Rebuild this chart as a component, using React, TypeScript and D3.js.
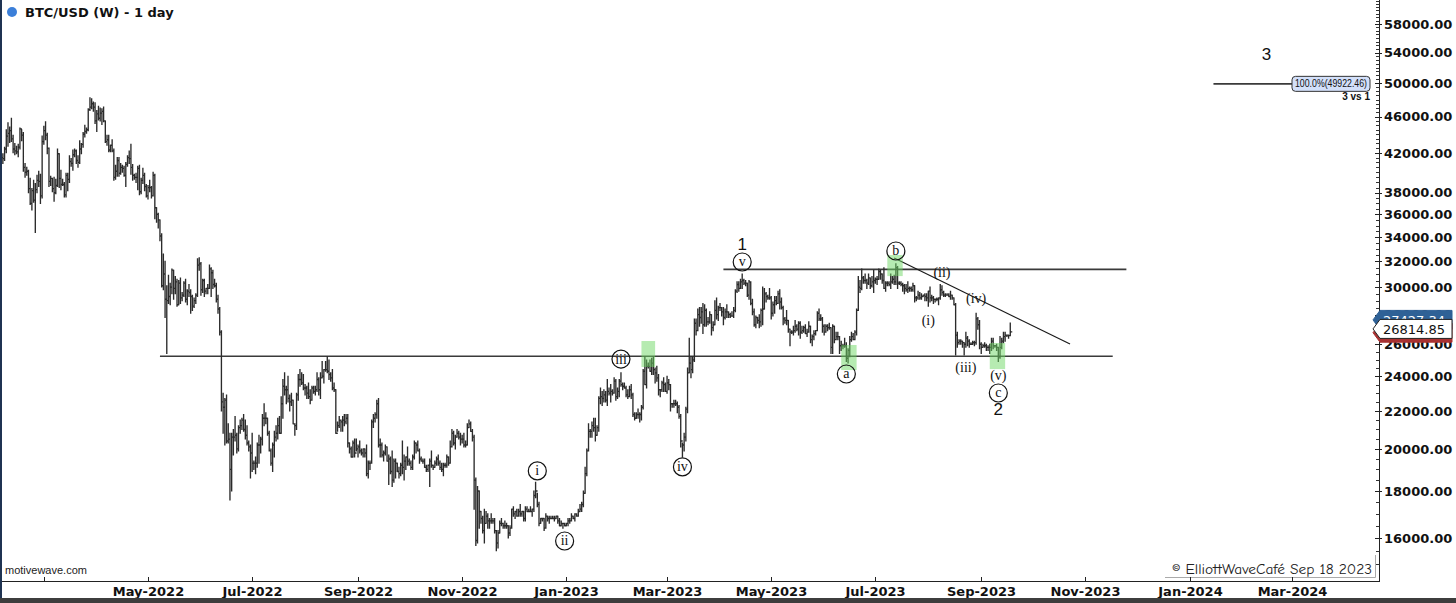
import React from "react";
import * as d3 from "d3";

// Daily BTC/USD bars, values in thousands of USD. First bar is 2022-02-05.
const START_DATE = "2022-02-05";
const FIRST_OPEN_K = 41.5;

const closeK = [
  // Feb 2022
  41.4,42.4,43.8,44.1,44.4,43.5,42.4,42.2,42.1,42.6,44.6,43.9,40.5,40.0,40.1,38.4,37.0,38.2,37.3,38.3,39.2,39.1,37.7,43.2,
  // Mar 2022
  44.4,43.9,42.5,39.1,39.4,38.4,38.0,38.7,41.9,39.4,38.8,38.8,37.8,39.7,39.3,41.1,40.9,41.8,42.2,41.2,41.0,42.4,42.9,44.0,44.3,44.5,46.8,47.1,47.5,47.1,45.5,
  // Apr 2022
  46.3,45.8,46.4,46.6,45.5,43.2,43.4,42.3,42.8,42.2,39.5,40.1,41.2,39.9,40.5,40.4,39.7,40.8,41.5,41.4,40.5,39.7,39.5,39.5,40.4,38.1,39.2,39.7,38.6,37.7,
  // May 2022
  38.5,38.5,37.7,39.7,36.6,36.0,35.5,34.1,30.1,31.0,29.1,29.0,29.3,30.0,31.3,29.9,30.4,28.7,30.3,29.2,29.4,30.3,29.1,29.7,29.6,29.3,28.6,29.0,29.4,31.7,31.8,
  // Jun 2022
  29.8,30.5,29.7,29.9,29.9,31.4,31.1,30.2,30.1,29.1,28.4,26.8,22.5,22.2,22.6,20.4,20.5,19.0,20.6,20.6,20.7,20.0,21.1,21.2,21.5,21.0,20.7,20.3,20.1,19.8,
  // Jul 2022
  19.3,19.3,19.3,20.2,20.2,20.5,21.6,21.6,21.6,20.8,19.9,19.3,20.2,20.6,20.8,21.2,20.8,22.4,23.4,23.2,23.2,22.7,22.5,22.6,21.3,21.2,22.9,23.8,23.8,23.6,23.3,
  // Aug 2022
  23.3,23.0,22.8,22.6,23.3,23.1,23.2,23.8,23.2,23.9,24.0,24.4,24.4,24.3,24.1,23.9,23.3,23.2,20.8,21.2,21.5,21.4,21.5,21.4,21.6,20.3,20.0,19.6,20.3,19.8,20.0,
  // Sep 2022
  20.1,19.9,19.8,20.0,19.8,18.8,19.3,19.3,21.4,21.6,21.8,22.4,20.2,20.2,19.7,19.8,20.1,19.4,19.5,18.9,18.5,19.4,19.3,18.9,18.8,19.2,19.1,19.4,19.6,19.4,
  // Oct 2022
  19.3,19.1,19.6,20.3,20.2,19.9,19.5,19.4,19.4,19.1,19.0,19.2,19.4,19.2,19.1,19.3,19.5,19.3,19.1,19.0,19.2,19.2,19.6,19.3,20.1,20.8,20.3,20.6,20.8,20.6,20.5,
  // Nov 2022
  20.5,20.2,20.2,21.1,21.3,20.9,20.6,18.5,15.9,18.0,17.1,16.8,16.3,16.6,16.9,16.7,16.7,16.7,16.7,16.3,15.8,16.2,16.6,16.6,16.5,16.5,16.5,16.2,16.4,17.2,
  // Dec 2022
  17.0,17.1,16.9,17.1,17.0,17.1,16.8,17.2,17.1,17.1,17.1,17.2,17.8,18.0,17.4,16.6,16.8,16.8,16.4,16.9,16.8,16.8,16.8,16.8,16.8,16.9,16.7,16.5,16.6,16.6,16.5,
  // Jan 2023
  16.6,16.7,16.7,16.9,16.8,17.0,16.9,17.1,17.2,17.4,17.9,18.8,19.9,20.9,20.9,21.2,21.1,20.7,21.1,22.7,22.8,22.7,22.9,22.6,23.1,23.0,23.1,23.0,23.7,22.8,23.1,
  // Feb 2023
  23.7,23.5,23.4,23.3,22.9,22.8,23.2,22.9,21.8,21.6,21.8,21.8,21.8,22.2,24.3,23.5,24.6,24.6,24.3,24.8,24.4,24.2,23.9,23.2,23.2,23.6,23.5,23.1,
  // Mar 2023
  23.6,23.5,22.4,22.4,22.4,22.4,22.2,21.7,20.4,20.2,20.6,22.1,24.2,24.8,24.4,25.0,27.4,26.9,28.0,27.8,28.2,27.3,28.3,27.5,27.5,28.0,27.1,27.3,28.3,28.0,28.5,
  // Apr 2023
  28.5,28.2,27.8,28.2,28.2,28.0,27.9,27.9,28.3,29.7,30.2,29.9,30.4,30.5,30.3,30.3,29.4,30.4,28.8,28.2,27.3,27.8,27.6,27.5,28.3,28.4,29.5,29.3,29.2,29.2,
  // May 2023
  28.1,28.7,29.0,28.8,29.5,28.9,28.5,27.7,27.6,27.6,27.0,26.8,26.8,26.9,27.2,27.0,27.4,26.8,26.9,27.1,26.7,26.8,27.2,26.3,26.5,26.7,26.9,28.1,27.7,27.7,27.2,
  // Jun 2023
  26.8,27.2,27.1,27.1,25.8,27.2,26.3,26.5,26.5,25.9,25.9,25.9,25.9,25.1,25.6,26.3,26.5,26.3,26.8,28.3,30.0,29.9,30.7,30.5,30.5,30.3,30.7,30.1,30.4,30.5,
  // Jul 2023
  30.6,30.6,31.2,31.0,30.5,29.9,30.3,30.3,30.2,30.4,30.6,30.4,31.5,30.3,30.3,30.2,30.1,29.9,29.8,29.9,29.9,29.8,30.1,29.2,29.2,29.4,29.2,29.3,29.4,29.3,29.2,
  // Aug 2023
  29.7,29.2,29.2,29.1,29.1,29.1,29.2,29.8,29.6,29.4,29.4,29.4,29.3,29.4,29.2,28.7,26.6,26.1,26.2,26.2,26.1,26.0,26.4,26.2,26.0,26.0,26.1,26.1,27.7,27.3,26.0,
  // Sep 2023
  25.8,25.9,25.9,25.8,25.8,25.8,26.2,25.9,25.9,25.8,25.2,25.8,26.2,26.5,26.6,26.6,26.57,26.81485,
];

const highK = [
  // Feb 2022
  41.9,42.6,44.5,45.3,44.8,45.8,43.9,43.0,42.7,42.9,44.7,44.5,44.2,40.9,40.5,40.2,39.4,38.4,39.2,38.9,39.7,40.1,39.8,43.8,
  // Mar 2022
  44.9,45.4,44.1,42.5,39.6,39.4,39.5,39.3,42.4,41.9,40.2,39.3,39.0,39.9,39.9,41.7,41.4,42.3,42.4,42.3,41.7,43.3,43.0,44.2,45.0,44.7,46.9,48.2,48.1,47.7,47.6,
  // Apr 2022
  46.7,47.2,47.0,46.9,47.1,45.5,43.9,43.9,42.8,43.4,42.4,40.7,41.5,41.5,40.9,40.7,40.6,41.0,41.7,42.2,42.9,40.8,39.8,39.9,40.6,40.7,39.4,40.4,39.9,38.8,
  // May 2022
  38.7,39.2,38.6,40.0,39.8,36.6,36.1,35.5,34.3,32.6,32.0,30.1,30.9,30.3,31.4,31.3,30.8,30.6,30.5,30.7,29.6,30.4,30.6,29.8,30.2,29.8,29.4,29.2,29.5,32.2,32.3,
  // Jun 2022
  31.9,30.6,30.6,29.9,30.2,31.7,31.5,31.3,30.6,30.3,29.4,28.5,26.9,23.0,22.7,22.9,21.3,20.8,20.8,21.0,21.7,20.8,21.2,21.5,21.6,21.8,21.5,21.2,20.4,20.2,
  // Jul 2022
  20.8,19.4,19.6,20.3,20.7,20.6,21.8,22.4,21.9,21.6,20.9,20.0,20.3,20.9,21.2,21.6,21.7,22.8,23.8,24.2,23.4,24.0,22.9,23.0,22.6,21.3,23.0,24.1,24.4,24.2,24.1,
  // Aug 2022
  23.5,23.4,23.6,23.2,23.4,23.4,23.4,24.2,23.9,24.2,24.9,24.4,24.9,25.2,25.0,24.2,24.4,23.6,23.2,21.4,21.7,21.5,21.7,21.8,21.8,21.8,20.3,20.1,20.4,20.5,20.5,
  // Sep 2022
  20.2,20.4,20.0,20.0,20.0,20.2,19.4,19.4,21.5,21.8,21.9,22.6,22.7,20.5,20.3,19.9,20.2,20.1,19.7,19.6,19.9,19.5,19.5,19.3,19.1,19.3,20.4,19.7,19.6,20.1,
  // Oct 2022
  19.5,19.4,19.7,20.4,20.3,20.4,20.0,19.6,19.5,19.5,19.2,19.2,19.5,19.9,19.2,19.4,19.6,19.7,19.4,19.3,19.3,19.3,19.7,19.6,20.4,21.0,20.9,20.7,21.0,20.9,20.8,
  // Nov 2022
  20.7,20.8,20.4,21.3,21.5,21.4,21.0,20.7,18.6,18.2,18.0,17.1,16.9,17.2,17.1,17.0,16.8,17.0,16.8,16.8,16.3,16.3,16.7,16.8,16.6,16.7,16.6,16.5,16.5,17.2,
  // Dec 2022
  17.3,17.1,17.2,17.2,17.4,17.1,17.1,17.3,17.3,17.2,17.3,17.2,18.0,18.4,17.9,17.5,16.8,16.8,16.8,17.0,16.9,16.9,16.9,16.9,16.9,16.9,16.9,16.8,16.7,16.6,16.6,
  // Jan 2023
  16.6,16.8,16.8,17.0,16.9,17.0,17.0,17.2,17.4,17.5,18.0,19.1,20.0,21.3,21.0,21.4,21.6,21.6,21.2,22.8,23.3,23.1,23.2,23.1,23.8,23.3,23.5,23.2,23.9,23.8,23.3,
  // Feb 2023
  23.8,24.2,23.6,23.6,23.4,23.2,23.4,23.5,23.0,21.9,21.9,22.1,21.9,22.3,24.4,25.2,25.0,24.8,25.0,25.1,25.2,24.5,24.6,24.1,23.2,23.7,23.9,23.6,
  // Mar 2023
  24.0,23.8,23.5,22.4,22.6,22.6,22.5,22.3,21.8,20.3,20.8,22.2,24.5,26.4,25.2,25.2,27.7,27.7,28.4,28.5,28.5,28.8,28.7,28.4,27.8,28.2,28.0,27.5,29.0,29.2,28.6,
  // Apr 2023
  28.8,28.5,28.5,28.4,28.7,28.2,28.1,28.2,28.5,29.8,30.4,30.4,30.6,31.0,30.6,30.5,30.3,30.5,30.4,29.1,28.4,27.9,27.8,28.0,28.4,30.0,29.9,29.6,29.4,29.9,
  // May 2023
  29.3,28.9,29.3,29.3,29.7,29.8,29.2,28.6,27.8,28.3,27.6,27.0,26.9,27.2,27.6,27.3,27.5,27.5,27.2,27.2,27.3,27.0,27.5,27.2,26.6,26.9,26.9,28.2,28.4,28.0,27.8,
  // Jun 2023
  27.3,27.3,27.3,27.4,27.1,27.3,27.2,26.8,26.8,26.5,26.2,26.0,26.4,26.1,25.7,26.5,26.8,26.7,26.9,28.4,30.8,30.5,31.4,30.8,31.0,30.6,31.0,30.7,30.8,31.3,
  // Jul 2023
  30.7,30.8,31.4,31.3,31.0,31.5,30.4,30.4,30.4,31.0,30.8,30.9,31.8,31.6,30.4,30.4,30.3,30.2,30.2,30.4,30.0,30.0,30.3,30.1,29.3,29.7,29.6,29.5,29.4,29.5,29.5,
  // Aug 2023
  29.7,30.0,29.4,29.3,29.1,29.2,29.2,30.2,30.1,29.7,29.5,29.5,29.5,29.7,29.4,29.2,28.8,26.8,26.3,26.3,26.2,26.1,26.8,26.5,26.3,26.1,26.2,26.2,28.1,27.8,27.6,
  // Sep 2023
  26.1,26.0,26.1,26.0,25.9,26.0,26.4,26.4,25.9,26.0,25.8,26.5,26.4,26.8,26.8,26.6,26.6,27.42734,
];

const lowK = [
  // Feb 2022
  40.9,41.2,42.0,42.7,43.1,43.2,42.0,41.8,41.9,41.6,42.4,43.3,40.1,39.5,39.7,38.0,36.9,36.4,37.1,34.4,38.0,38.6,37.0,37.5,
  // Mar 2022
  42.9,43.4,41.9,38.6,38.7,38.1,37.2,37.9,38.6,38.5,38.3,38.7,37.6,37.6,38.2,39.0,40.6,40.2,41.6,40.9,40.5,40.9,41.9,42.6,43.7,44.1,44.4,46.7,46.9,46.6,45.2,
  // Apr 2022
  44.3,45.6,45.5,45.1,45.4,43.1,42.8,42.1,42.1,42.1,39.2,39.3,39.6,39.6,39.8,40.0,39.6,38.6,40.6,40.9,39.8,39.2,39.3,39.0,38.3,37.8,37.9,38.9,38.2,37.6,
  // May 2022
  37.4,38.1,37.5,37.7,35.6,35.3,34.8,33.7,30.0,29.8,27.8,25.4,28.8,28.7,29.5,29.1,29.5,28.6,28.7,28.8,29.0,29.3,28.9,28.7,29.3,28.1,28.3,28.5,28.8,29.3,31.3,
  // Jun 2022
  29.4,29.6,29.3,29.5,29.5,29.9,29.3,29.9,30.0,28.9,28.1,26.6,22.0,20.8,20.2,20.3,20.3,17.6,18.0,19.7,20.4,19.8,19.9,20.8,21.0,20.9,20.5,20.2,19.9,18.6,
  // Jul 2022
  18.9,19.0,18.8,19.1,19.3,19.8,20.2,21.2,21.3,20.7,19.9,19.2,18.9,19.6,20.4,20.5,20.8,20.8,21.6,22.9,22.4,22.5,22.0,22.3,21.3,20.7,21.0,22.6,23.4,23.5,23.2,
  // Aug 2022
  22.9,22.7,22.7,22.4,22.6,23.0,22.9,23.1,22.9,22.7,23.9,23.6,24.3,24.2,23.8,23.7,23.2,23.1,20.8,20.9,21.1,20.9,20.9,21.2,21.3,20.1,19.8,19.6,19.6,19.6,19.9,
  // Sep 2022
  19.6,19.8,19.7,19.6,19.6,18.7,18.6,19.0,19.3,21.1,21.4,21.6,20.1,19.6,19.6,19.4,19.7,19.4,18.3,18.8,18.2,18.4,18.6,18.9,18.6,18.7,18.8,18.5,19.0,19.2,
  // Oct 2022
  19.2,19.0,19.0,19.5,19.8,19.9,19.3,19.4,19.3,19.1,18.9,18.9,18.2,19.1,19.0,19.1,19.2,19.2,19.0,18.9,18.7,19.1,19.1,19.2,19.3,20.1,20.2,20.0,20.6,20.5,20.2,
  // Nov 2022
  20.3,20.1,20.1,20.2,21.1,20.9,20.4,17.2,15.7,15.8,16.4,16.6,16.2,15.8,16.6,16.4,16.4,16.6,16.6,16.2,15.5,15.6,16.2,16.5,16.4,16.4,16.4,16.0,16.1,16.4,
  // Dec 2022
  16.9,16.8,16.9,16.9,16.9,16.9,16.7,16.7,17.1,17.1,17.1,16.9,17.1,17.7,17.3,16.5,16.6,16.7,16.3,16.4,16.7,16.6,16.8,16.8,16.7,16.8,16.6,16.5,16.5,16.4,16.5,
  // Jan 2023
  16.5,16.5,16.6,16.7,16.8,16.7,16.9,16.9,17.1,17.1,17.3,17.9,18.7,19.9,20.6,20.6,20.9,20.4,20.7,20.9,22.4,22.3,22.5,22.5,22.3,22.9,22.5,22.9,23.0,22.6,22.7,
  // Feb 2023
  22.8,23.4,23.2,23.3,22.8,22.7,22.8,22.7,21.7,21.5,21.6,21.6,21.4,21.5,22.1,23.5,23.3,24.5,24.3,24.1,24.1,23.6,23.7,22.9,22.8,23.1,23.1,23.1,
  // Mar 2023
  23.0,23.2,22.0,22.2,22.2,22.3,21.9,21.6,20.1,19.6,19.9,20.4,21.9,24.2,23.9,24.2,24.9,26.6,26.9,27.2,27.4,26.7,27.2,27.2,27.3,27.4,26.6,26.9,27.3,27.7,27.6,
  // Apr 2023
  28.3,27.9,27.3,27.7,27.8,27.8,27.8,27.9,27.8,28.2,29.6,29.7,29.9,29.9,30.2,30.1,29.3,29.1,28.7,28.0,27.2,27.1,27.4,27.1,27.2,27.3,28.4,28.9,29.1,29.1,
  // May 2023
  27.7,27.9,28.1,28.7,28.8,28.4,28.4,27.3,27.4,27.3,26.8,25.9,26.7,26.6,26.8,26.9,26.6,26.4,26.7,26.8,26.7,26.5,26.8,26.1,25.9,26.3,26.6,26.9,27.6,27.6,26.8,
  // Jun 2023
  26.6,26.8,26.9,27.0,25.4,25.4,26.1,26.3,26.3,25.4,25.6,25.7,25.8,24.9,24.8,25.2,26.2,26.3,26.3,26.6,28.3,29.6,29.8,30.3,30.3,29.9,30.2,29.9,30.0,29.6,
  // Jul 2023
  30.3,30.2,30.6,30.6,30.3,29.9,29.7,30.1,30.1,29.9,30.3,30.2,30.2,29.9,30.2,30.1,29.7,29.5,29.7,29.6,29.7,29.7,29.7,28.9,29.0,29.1,29.1,29.1,29.3,29.0,29.0,
  // Aug 2023
  28.6,28.9,29.0,28.8,28.9,29.0,28.7,29.1,29.4,29.3,29.3,29.4,29.3,29.1,29.1,28.7,25.3,25.8,26.0,26.0,25.8,25.3,25.8,25.9,25.8,26.0,26.0,25.9,26.0,27.0,25.7,
  // Sep 2023
  25.4,25.8,25.8,25.6,25.6,25.4,25.6,25.7,25.8,25.6,24.9,25.1,25.7,26.1,26.2,26.5,26.4,26.56215,
];

// Price-axis labels
const yTickValues = [16000, 18000, 20000, 22000, 24000, 26000, 28000, 30000, 32000, 34000, 36000, 38000, 42000, 46000, 50000, 54000, 58000];

// Elliott wave annotations (date, price where the label sits)
const circledLabels = [
  { text: "v", date: "2023-04-14", price: 31950 },
  { text: "iii", date: "2023-02-02", price: 25050 },
  { text: "i", date: "2022-12-15", price: 18930 },
  { text: "ii", date: "2022-12-31", price: 15880 },
  { text: "iv", date: "2023-03-10", price: 19120 },
  { text: "a", date: "2023-06-14", price: 24130 },
  { text: "b", date: "2023-07-13", price: 32840 },
  { text: "c", date: "2023-09-11", price: 23010 },
];
const degreeLabels = [
  { text: "1", date: "2023-04-14", price: 33450 },
  { text: "2", date: "2023-09-11", price: 22100 },
  { text: "3", date: "2024-02-15", price: 53800 },
];
const minorLabels = [
  { text: "(i)", date: "2023-08-01", price: 27620 },
  { text: "(ii)", date: "2023-08-09", price: 31160 },
  { text: "(iii)", date: "2023-08-23", price: 24560 },
  { text: "(iv)", date: "2023-08-29", price: 29190 },
  { text: "(v)", date: "2023-09-11", price: 24070 },
];

// Highlighted zones: start date, end date, low price, high price
const zones = [
  { from: "2023-02-14", to: "2023-02-22", low: 24560, high: 26210 },
  { from: "2023-06-11", to: "2023-06-20", low: 24370, high: 25950 },
  { from: "2023-07-08", to: "2023-07-17", low: 30840, high: 32510 },
  { from: "2023-09-06", to: "2023-09-15", low: 24430, high: 26080 },
];

// Drawn lines: [date, price] -> [date, price]
const trendLines = [
  { from: ["2022-05-08", 25230], to: ["2023-11-17", 25230] },
  { from: ["2023-04-03", 31360], to: ["2023-11-25", 31360] },
  { from: ["2023-07-12", 32270], to: ["2023-10-23", 26010] },
];

const fibTarget = { value: 49922.46, from: "2024-01-15", label: "100.0%", note: "3 vs 1" };

const parse = d3.utcParse("%Y-%m-%d");

export default function App() {
  const W = 1456;
  const H = 603;
  const axisX = 1379;
  const axisY = 581;

  const x = d3
    .scaleUtc()
    .domain([new Date(Date.UTC(2022, 4, 1)), new Date(Date.UTC(2024, 2, 1))])
    .range([148, 1292]);
  const y = d3.scaleLog().domain([16000, 58000]).range([538, 24]);

  const start = parse(START_DATE) as Date;
  const n = Math.min(closeK.length, highK.length, lowK.length);
  const bars = d3.range(n).map((i) => ({
    date: d3.utcDay.offset(start, i),
    open: (i === 0 ? FIRST_OPEN_K : closeK[i - 1]) * 1000,
    high: highK[i] * 1000,
    low: lowK[i] * 1000,
    close: closeK[i] * 1000,
  }));

  const barPath = bars
    .map((b) => {
      const cx = x(b.date);
      const yo = y(b.open);
      const yc = y(b.close);
      return `M${cx},${y(b.high) - 0.5}V${y(b.low) + 0.5}M${cx - 2},${yo}H${cx}M${cx},${yc}H${cx + 2}`;
    })
    .join("");

  const last = bars[bars.length - 1];

  const monthTicks = d3.utcMonth.every(2)!.range(new Date(Date.UTC(2022, 2, 1)), new Date(Date.UTC(2024, 3, 1)));
  const fmtMonth = d3.utcFormat("%b-%Y");

  const minorTicks = d3
    .range(15000, 64001, 500)
    .filter((v) => !yTickValues.includes(v))
    .map((v) => y(v))
    .filter((p) => p >= 0 && p <= axisY);

  const priceTag = (value: number, fill: string, stroke: string, color: string) => {
    const cy = y(value) - 3;
    const tip = 1373;
    const right = 1452;
    const d = `M${tip},${cy}L${tip + 7},${cy - 9.5}H${right}V${cy + 9.5}H${tip + 7}Z`;
    return (
      <g key={`tag-${value}`}>
        <path d={d} fill={fill} stroke={stroke} strokeWidth={1} />
        <text
          x={1383}
          y={cy}
          dy="0.36em"
          fontFamily="DejaVu Sans, Verdana, sans-serif"
          fontSize={13}
          fill={color}
        >
          {value.toFixed(2)}
        </text>
      </g>
    );
  };

  const fibY = y(fibTarget.value);
  const fibX = x(parse(fibTarget.from) as Date);

  return (
    <>
      <style>{"body{margin:0;background:#fff}"}</style>
      <svg width={W} height={H} style={{ display: "block", background: "#fff" }}>
        {/* drawn support/resistance and trend lines */}
        {trendLines.map((l, i) => (
          <line
            key={`tl-${i}`}
            x1={x(parse(l.from[0] as string) as Date)}
            y1={y(l.from[1] as number)}
            x2={x(parse(l.to[0] as string) as Date)}
            y2={y(l.to[1] as number)}
            stroke={i === 2 ? "#1a1a1a" : "#3a3a3a"}
            strokeWidth={i === 2 ? 1.2 : 1.6}
          />
        ))}

        {/* OHLC bars */}
        <path d={barPath} fill="none" stroke="#2b2b2b" strokeWidth={1.35} />

        {/* highlighted zones */}
        {zones.map((z, i) => {
          const x0 = x(parse(z.from) as Date);
          const x1 = x(parse(z.to) as Date);
          return (
            <rect
              key={`z-${i}`}
              x={x0}
              y={y(z.high)}
              width={x1 - x0}
              height={y(z.low) - y(z.high)}
              fill="rgb(110,215,100)"
              fillOpacity={0.5}
            />
          );
        })}

        {/* wave labels */}
        {circledLabels.map((l, i) => {
          const cx = x(parse(l.date) as Date);
          const cy = y(l.price);
          return (
            <g key={`c-${i}`}>
              <circle cx={cx} cy={cy} r={9} fill="none" stroke="#111" strokeWidth={1.2} />
              <text
                x={cx}
                y={cy}
                dy="0.32em"
                textAnchor="middle"
                fontFamily="Liberation Serif, Times New Roman, serif"
                fontSize={14}
                fill="#111"
              >
                {l.text}
              </text>
            </g>
          );
        })}
        {minorLabels.map((l, i) => (
          <text
            key={`m-${i}`}
            x={x(parse(l.date) as Date)}
            y={y(l.price)}
            dy="0.33em"
            textAnchor="middle"
            fontFamily="Liberation Serif, Times New Roman, serif"
            fontSize={14}
            fill="#111"
          >
            {l.text}
          </text>
        ))}
        {degreeLabels.map((l, i) => (
          <text
            key={`d-${i}`}
            x={x(parse(l.date) as Date)}
            y={y(l.price)}
            dy="0.36em"
            textAnchor="middle"
            fontFamily="Liberation Sans, Arial, sans-serif"
            fontSize={17}
            fill="#111"
          >
            {l.text}
          </text>
        ))}

        {/* projection target */}
        <line x1={fibX} y1={fibY} x2={1292} y2={fibY} stroke="#3a3a3a" strokeWidth={1.6} />
        <rect x={1292} y={fibY - 7.5} width={78} height={15} rx={3.5} fill="#d3e0fa" stroke="#333" strokeWidth={1} />
        <text
          x={1295}
          y={fibY}
          dy="0.35em"
          textLength={72}
          lengthAdjust="spacingAndGlyphs"
          fontFamily="Liberation Sans, Arial, sans-serif"
          fontSize={10}
          fill="#111"
        >
          {`${fibTarget.label}(${fibTarget.value.toFixed(2)})`}
        </text>
        <text
          x={1370}
          y={fibY + 13}
          dy="0.35em"
          textAnchor="end"
          fontFamily="Liberation Sans, Arial, sans-serif"
          fontSize={10}
          fontWeight="bold"
          fill="#111"
        >
          {fibTarget.note}
        </text>

        {/* title */}
        <circle cx={12} cy={12} r={5} fill="#3b7fd9" />
        <text x={25} y={12} dy="0.36em" fontFamily="DejaVu Sans, Verdana, sans-serif" fontSize={13} fontWeight="bold" fill="#111">
          BTC/USD (W) - 1 day
        </text>

        {/* watermarks */}
        <text x={5} y={570} dy="0.35em" fontFamily="Liberation Sans, Arial, sans-serif" fontSize={11} fill="#222">
          motivewave.com
        </text>
        <line x1={1165} y1={577.5} x2={1375.5} y2={577.5} stroke="#aaa" strokeWidth={1} />
        <line x1={1375.5} y1={555} x2={1375.5} y2={577.5} stroke="#aaa" strokeWidth={1} />
        <text
          x={1172}
          y={574}
          textLength={200}
          lengthAdjust="spacingAndGlyphs"
          fontFamily="Comic Sans MS, Comic Neue, cursive"
          fontSize={14}
          fill="#222"
        >
          © ElliottWaveCafé Sep 18 2023
        </text>

        {/* price axis */}
        <line x1={axisX + 0.5} y1={0} x2={axisX + 0.5} y2={axisY} stroke="#222" strokeWidth={1} />
        {minorTicks.map((p, i) => (
          <line key={`mt-${i}`} x1={axisX - 3} y1={Math.round(p) + 0.5} x2={axisX + 0.5} y2={Math.round(p) + 0.5} stroke="#333" strokeWidth={1} />
        ))}
        {yTickValues.map((v) => (
          <g key={`yt-${v}`}>
            <line x1={axisX - 4} y1={Math.round(y(v)) + 0.5} x2={axisX + 3} y2={Math.round(y(v)) + 0.5} stroke="#222" strokeWidth={1} />
            <text
              x={1384}
              y={y(v)}
              dy="0.36em"
              fontFamily="DejaVu Sans, Verdana, sans-serif"
              fontSize={13}
              fontWeight="bold"
              fill="#111"
            >
              {v.toFixed(2)}
            </text>
          </g>
        ))}

        {/* last-bar price tags */}
        {priceTag(last.high, "#2f6196", "#2f6196", "#fff")}
        {priceTag(last.low, "#a83232", "#a83232", "#fff")}
        {priceTag(last.close, "#fff", "#222", "#111")}

        {/* time axis */}
        <line x1={0} y1={axisY + 0.5} x2={axisX + 1} y2={axisY + 0.5} stroke="#222" strokeWidth={1} />
        {monthTicks.map((d, i) => {
          const px = Math.round(x(d)) + 0.5;
          return (
            <g key={`xt-${i}`}>
              <line x1={px} y1={axisY - 4} x2={px} y2={axisY} stroke="#222" strokeWidth={1} />
              {i > 0 && (
                <text
                  x={px}
                  y={596}
                  textAnchor="middle"
                  fontFamily="DejaVu Sans, Verdana, sans-serif"
                  fontSize={13}
                  fontWeight="bold"
                  fill="#111"
                >
                  {fmtMonth(d)}
                </text>
              )}
            </g>
          );
        })}

        {/* frame */}
        <rect x={0} y={0} width={2} height={598} fill="#1f3352" />
        <rect x={0} y={598} width={W} height={5} fill="#3d3d3d" />
      </svg>
    </>
  );
}
